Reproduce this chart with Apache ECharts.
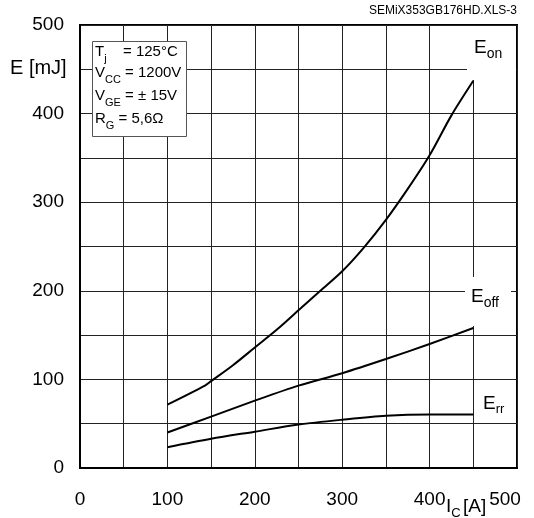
<!DOCTYPE html>
<html>
<head>
<meta charset="utf-8">
<script src="https://cdn.jsdelivr.net/npm/echarts@6/dist/echarts.min.js"></script>
<style>
html,body{margin:0;padding:0;background:#fff;}
#chart{width:534px;height:518px;}
</style>
</head>
<body>
<div id="chart"></div>
<script>
// Data
const eonCurrent = [100, 143, 150, 175, 200, 225, 250, 275, 300, 325, 350, 375, 400, 425, 450];
const eonEnergy  = [71.5, 93, 98, 116, 136, 156, 178, 200, 222, 249, 280, 315, 353, 398, 437];
const offCurrent = [100, 150, 200, 250, 300, 350, 400, 450];
const eoffEnergy = [40, 58, 76, 93, 107, 123, 140, 158];
const errCurrent = [100, 150, 200, 250, 300, 350, 400, 450];
const errEnergy  = [23.5, 33, 41, 49, 54.5, 59, 60.5, 60.5];
const xTicks = [0, 100, 200, 300, 400, 500];
const yTicks = [0, 100, 200, 300, 400, 500];

const FONT = "'Liberation Sans', Arial, Helvetica, sans-serif";
const pairs = (xs, ys) => xs.map((x, i) => [x, ys[i]]);

const chart = echarts.init(document.getElementById('chart'), null, {renderer: 'canvas'});

const lineSeries = (name, xs, ys) => ({
  name: name,
  type: 'line',
  data: pairs(xs, ys),
  smooth: 0.3,
  symbol: 'none',
  lineStyle: {color: '#000', width: 2},
  z: 3,
  animation: false
});

const sub = (main, s, mSize, sSize, pad, rest) => ({
  text: '{m|' + main + '}{s|' + s + '}' + (rest ? '{m|' + rest + '}' : ''),
  rich: {
    m: {fontSize: mSize, fontFamily: FONT, fill: '#000'},
    s: {fontSize: sSize, fontFamily: FONT, fill: '#000', padding: [pad, 0, 0, 0]}
  }
});

function txt(x, y, style, align) {
  return {
    type: 'text', x: x, y: y, z: 20,
    style: Object.assign({fill: '#000', fontFamily: FONT, align: align || 'left', verticalAlign: 'middle'}, style)
  };
}

const labelFont = {color: '#000', fontSize: 19, fontFamily: FONT};

const option = {
  animation: false,
  backgroundColor: '#fff',
  grid: {left: 80, right: 17, top: 25, bottom: 50, show: true, borderColor: '#000', borderWidth: 2, backgroundColor: 'transparent'},
  xAxis: {
    type: 'value', min: 0, max: 500, interval: 50,
    axisLine: {show: true, lineStyle: {color: '#000', width: 2}},
    axisTick: {show: false},
    splitLine: {show: true, lineStyle: {color: '#222', width: 1}},
    axisLabel: Object.assign({}, labelFont, {
      margin: 22,
      formatter: v => v === 500 ? '{r|500}' : (xTicks.includes(v) ? String(v) : ''),
      rich: {r: Object.assign({}, labelFont, {padding: [0, 24, 0, 0]})}
    })
  },
  yAxis: {
    type: 'value', min: 0, max: 500, interval: 50,
    axisLine: {show: true, lineStyle: {color: '#000', width: 2}},
    axisTick: {show: false},
    splitLine: {show: true, lineStyle: {color: '#222', width: 1}},
    axisLabel: Object.assign({}, labelFont, {
      margin: 16,
      formatter: v => yTicks.includes(v) ? String(v) : ''
    })
  },
  series: [
    lineSeries('Eon', eonCurrent, eonEnergy),
    lineSeries('Eoff', offCurrent, eoffEnergy),
    lineSeries('Err', errCurrent, errEnergy)
  ],
  graphic: [
    // white backgrounds behind curve labels
    {type: 'rect', z: 15, shape: {x: 467, y: 26, width: 49, height: 54}, style: {fill: '#fff'}},
    {type: 'rect', z: 15, shape: {x: 465, y: 277, width: 46, height: 49}, style: {fill: '#fff'}},
    // parameter box
    {type: 'rect', z: 15, shape: {x: 92.5, y: 41.5, width: 94, height: 95}, style: {fill: '#fff', stroke: '#555', lineWidth: 1}},
    txt(95, 51.5, sub('T', 'j', 15, 11, 14)),
    txt(123, 51.5, {text: '= 125°C', fontSize: 15}),
    txt(95, 73, sub('V', 'CC', 15, 11, 14, ' = 1200V')),
    txt(95, 96, sub('V', 'GE', 15, 11, 14, ' = ± 15V')),
    txt(95, 118.5, sub('R', 'G', 15, 11, 14, ' = 5,6Ω')),
    // titles
    txt(517, 10.5, {text: 'SEMiX353GB176HD.XLS-3', fontSize: 12}, 'right'),
    txt(10, 68.5, {text: 'E [mJ]', fontSize: 20}),
    txt(446, 507, sub('I', 'C', 19, 13, 12)),
    txt(463, 506.5, {text: '[A]', fontSize: 19}),
    // curve labels
    txt(474, 48, sub('E', 'on', 19, 14, 12)),
    txt(471, 296.5, sub('E', 'off', 19, 14, 13)),
    txt(483, 403.5, sub('E', 'rr', 19, 13, 11))
  ]
};
chart.setOption(option);
</script>
</body>
</html>
